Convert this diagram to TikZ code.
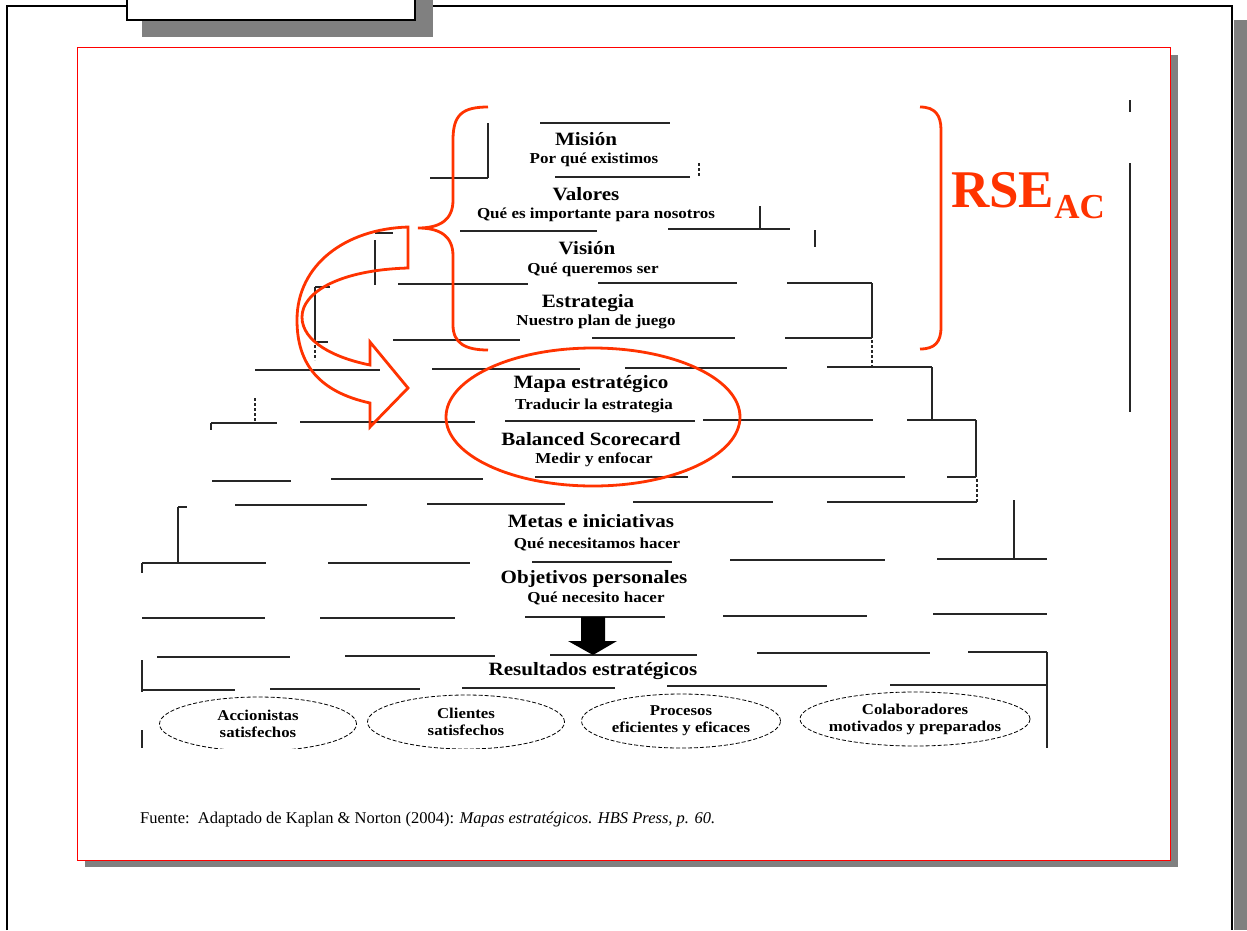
\documentclass[tikz,border=0pt]{standalone}
\usepackage{fontspec}
\setmainfont{Liberation Serif}
\newfontfamily\scanfont[FakeStretch=1.12]{Liberation Serif}
\usetikzlibrary{shapes.geometric}
\definecolor{rsered}{RGB}{255,51,0}
\definecolor{shadowgray}{RGB}{128,128,128}
\tikzset{
  scanline/.style={line width=1.2pt, black!85},
  lvl/.style={font=\scanfont\bfseries\fontsize{18.8}{20}\selectfont, anchor=base, inner sep=0},
  lvlsub/.style={font=\scanfont\bfseries\fontsize{15.2}{16}\selectfont, anchor=base, inner sep=0},
  goal/.style={ellipse, draw, dashed, dash pattern=on 4pt off 2pt, line width=0.8pt,
    align=center, inner xsep=-8pt, inner ysep=0, minimum height=54pt,
    font=\scanfont\bfseries\fontsize{15}{17}\selectfont},
  redmark/.style={rsered, line width=2.8pt},
}
\begin{document}
\begin{tikzpicture}[x=1pt, y=-1pt]
\useasboundingbox (0,0) rectangle (1247,930);
% outer frame and title box
\fill[shadowgray] (1234,20) rectangle (1247,930);
\draw[line width=2pt] (7,930) -- (7,6) -- (1232,6) -- (1232,930);
\fill[shadowgray] (142,0) rectangle (433,37);
\draw[line width=2pt, fill=white] (127,-5) rectangle (415,20);
% red panel
\fill[shadowgray] (85,55) rectangle (1178,867);
\draw[red, line width=1pt, fill=white] (77,47) rectangle (1170,860);

\begin{scope}
\clip (80,50) rectangle (1165,748);
% pyramid (scanned lines)
\foreach \y/\a/\b in {123/540/670, 178/430/488, 177/555/690,
    231/460/597, 229/668/790,
    284/398/528, 283/598/737, 283/787/872, 233/375/393,
    340/393/520, 338/592/735, 338/785/872, 287/315/330, 342/315/328,
    370/255/380, 369/432/580, 368/625/787, 367/827/932,
    423/211/277, 422/300/475, 421/505/695, 420/703/873, 420/907/976,
    481/212/291, 479/331/483, 477/535/688, 477/732/905, 477/947/976,
    507/178/187, 505/235/367, 504/427/565, 502/633/773, 502/827/977,
    563/142/266, 563/328/470, 562/532/672, 560/730/885, 559/937/1047,
    618/142/265, 618/320/455, 617/525/665, 616/723/867, 614/933/1047,
    657/157/290, 656/345/495, 655/550/697, 653/757/930, 652/968/1047,
    690/142/235, 689/270/420, 688/462/615, 686/667/827, 685/890/1047}
  \draw[scanline] (\a,\y) -- (\b,\y);
\foreach \x/\a/\b in {488/123/178, 760/206/229, 815/230/247,
    872/283/338, 375/240/285, 315/287/342, 932/367/420, 211/423/430,
    976/420/477, 178/507/563, 142/563/573, 1014/500/559,
    1047/652/748, 142/660/692, 142/730/748, 1130/100/112, 1130/163/412}
  \draw[scanline] (\x,\a) -- (\x,\b);
\foreach \x/\a/\b in {699/163/177, 872/340/366, 315/345/360, 255/398/423, 977/479/502}
  \draw[scanline, dash pattern=on 3pt off 2pt] (\x,\a) -- (\x,\b);

% levels
\node[lvl] (mision) at (586,145) {Misión};
\node[lvlsub] (misionS) at (594,163) {Por qué existimos};
\node[lvl] (valores) at (586,200) {Valores};
\node[lvlsub] (valoresS) at (596,218) {Qué es importante para nosotros};
\node[lvl] (vision) at (587,254) {Visión};
\node[lvlsub] (visionS) at (593,273) {Qué queremos ser};
\node[lvl] (estrategia) at (588,307) {Estrategia};
\node[lvlsub] (estrategiaS) at (596,325) {Nuestro plan de juego};
\node[lvl] (mapa) at (591,388) {Mapa estratégico};
\node[lvlsub] (mapaS) at (594,409) {Traducir la estrategia};
\node[lvl] (bsc) at (591,445) {Balanced Scorecard};
\node[lvlsub] (bscS) at (594,463) {Medir y enfocar};
\node[lvl] (metas) at (591,527) {Metas e iniciativas};
\node[lvlsub] (metasS) at (597,548) {Qué necesitamos hacer};
\node[lvl] (objetivos) at (594,583) {Objetivos personales};
\node[lvlsub] (objetivosS) at (596,602) {Qué necesito hacer};
\node[lvl] (resultados) at (593,675) {Resultados estratégicos};

% down arrow
\fill (581,617) -- (605,617) -- (605,641) -- (617,641) -- (593,655) -- (568,641) -- (581,641) -- cycle;

% results
\node[goal, minimum width=197pt] (accionistas) at (258,724) {Accionistas\\satisfechos};
\node[goal, minimum width=197pt] (clientes) at (466,722) {Clientes\\satisfechos};
\node[goal, minimum width=199pt] (procesos) at (681,721) {Procesos\\eficientes y eficaces};
\node[goal, minimum width=230pt] (colaboradores) at (915,719) {Colaboradores\\motivados y preparados};
\end{scope}

% red marks
\draw[redmark] (488,107) .. controls (462,107) and (453,115) .. (453,140) -- (453,200)
  .. controls (453,220) and (440,228) .. (418,228)
  .. controls (440,228) and (453,236) .. (453,256) -- (453,325)
  .. controls (453,343) and (465,350) .. (488,350);
\draw[redmark] (920,107) .. controls (935,107) and (941,115) .. (941,130) -- (941,327)
  .. controls (941,342) and (935,349) .. (920,349);
\node[rsered, anchor=base west, inner sep=0, font=\bfseries\fontsize{53}{53}\selectfont]
  (rse) at (951,207) {RSE\raisebox{-11pt}{\fontsize{35}{35}\selectfont AC}};
\draw[redmark] (593,417) ellipse [x radius=147, y radius=69];
\draw[redmark, line join=miter] (408,227) -- (408,268)
  .. controls (340,270) and (302,292) .. (302,317)
  .. controls (302,342) and (335,358) .. (370,365) -- (370,342) -- (408,388) -- (370,427) -- (370,403)
  .. controls (320,392) and (297,365) .. (297,320)
  .. controls (297,265) and (345,229) .. (408,227) -- cycle;

% source
\node[anchor=base west, inner sep=0, font=\fontsize{16.5}{18}\selectfont] (fuente) at (140,823)
  {Fuente:\ \ Adaptado de Kaplan \& Norton (2004): \textit{Mapas estratégicos. HBS Press, p. 60.}};
\end{tikzpicture}
\end{document}
